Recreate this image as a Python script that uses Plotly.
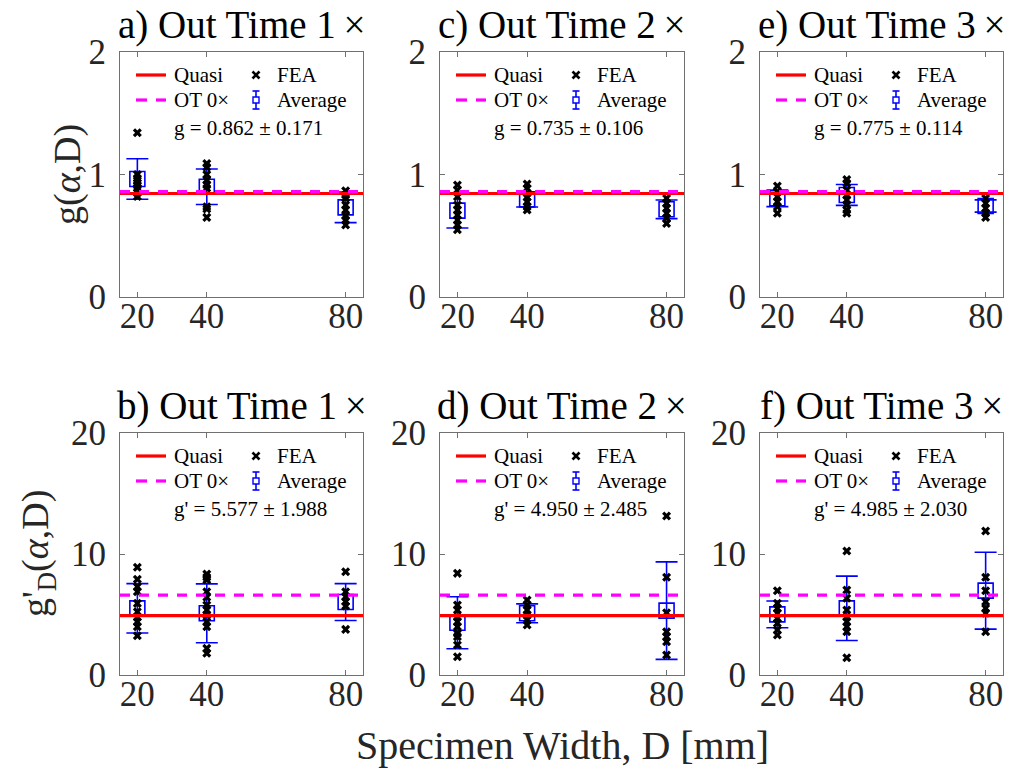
import plotly.graph_objects as go

# ---- data -------------------------------------------------------------
widths = [20, 40, 80]
x_ticks = [20, 40, 80]

quasi_g = 0.845
ot0_g = 0.86
quasi_gp = 4.9
ot0_gp = 6.6

# FEA results per specimen width (D = 20, 40, 80 mm)
fea_g_ot1 = [[1.34, 1.00, 0.97, 0.95, 0.93, 0.91, 0.89, 0.85, 0.82],
             [1.09, 1.06, 1.00, 0.955, 0.914, 0.887, 0.737, 0.718, 0.65],
             [0.868, 0.833, 0.806, 0.751, 0.71, 0.661, 0.629, 0.588]]
fea_g_ot2 = [[0.914, 0.873, 0.819, 0.751, 0.71, 0.67, 0.629, 0.588, 0.55],
             [0.922, 0.887, 0.847, 0.814, 0.778, 0.737, 0.71],
             [0.806, 0.765, 0.724, 0.683, 0.642, 0.60]]
fea_g_ot3 = [[0.906, 0.86, 0.819, 0.778, 0.737, 0.683],
             [0.96, 0.928, 0.873, 0.833, 0.792, 0.751, 0.71, 0.683],
             [0.806, 0.765, 0.724, 0.683, 0.65]]
fea_gp_ot1 = [[8.9, 7.91, 7.3, 6.88, 5.92, 5.23, 4.77, 4.41, 3.99, 3.25],
              [8.35, 8.07, 7.85, 6.88, 6.42, 5.79, 5.37, 4.96, 4.41, 3.99, 2.2, 1.79],
              [8.54, 6.88, 6.47, 6.06, 5.7, 3.77]]
fea_gp_ot2 = [[8.4, 5.79, 5.37, 4.82, 4.41, 3.99, 3.44, 3.17, 2.48, 1.51],
              [6.2, 5.79, 5.37, 4.96, 4.55, 4.13],
              [13.14, 8.07, 5.15, 3.58, 3.17, 2.75, 1.65]]
fea_gp_ot3 = [[6.97, 5.92, 5.51, 5.1, 4.69, 4.27, 3.72, 3.31],
              [10.25, 7.02, 6.34, 5.37, 4.82, 4.41, 3.99, 3.58, 1.43],
              [11.9, 8.07, 6.97, 6.06, 5.51, 5.1, 3.58]]

# averages and standard deviations per width
avg_g_ot1 = [0.963, 0.90, 0.732]
std_g_ot1 = [0.165, 0.145, 0.125]
avg_g_ot2 = [0.705, 0.797, 0.716]
std_g_ot2 = [0.142, 0.062, 0.076]
avg_g_ot3 = [0.806, 0.833, 0.743]
std_g_ot3 = [0.068, 0.085, 0.05]
avg_gp_ot1 = [5.51, 5.1, 6.03]
std_gp_ot1 = [2.04, 2.43, 1.52]
avg_gp_ot2 = [4.32, 5.1, 5.32]
std_gp_ot2 = [2.15, 0.78, 4.03]
avg_gp_ot3 = [5.01, 5.51, 6.97]
std_gp_ot3 = [1.1, 2.66, 3.18]

titles = ["a) Out Time 1\u2009×", "c) Out Time 2\u2009×", "e) Out Time 3\u2009×",
          "b) Out Time 1\u2009×", "d) Out Time 2\u2009×", "f) Out Time 3\u2009×"]
stats = ["g = 0.862 ± 0.171", "g = 0.735 ± 0.106", "g = 0.775 ± 0.114",
         "g' = 5.577 ± 1.988", "g' = 4.950 ± 2.485", "g' = 4.985 ± 2.030"]

# ---- layout helpers ---------------------------------------------------
W, H = 1013, 777
FONT = "Liberation Serif"
TXT = "#262626"
AX = "#707070"


def px(x):
    return x / W


def py(y):
    return 1 - y / H


cols_px = [(120, 363), (440, 684), (760, 1003)]
rows_px = [(52, 297), (433, 675)]

panels = [
    (fea_g_ot1, avg_g_ot1, std_g_ot1, quasi_g, ot0_g),
    (fea_g_ot2, avg_g_ot2, std_g_ot2, quasi_g, ot0_g),
    (fea_g_ot3, avg_g_ot3, std_g_ot3, quasi_g, ot0_g),
    (fea_gp_ot1, avg_gp_ot1, std_gp_ot1, quasi_gp, ot0_gp),
    (fea_gp_ot2, avg_gp_ot2, std_gp_ot2, quasi_gp, ot0_gp),
    (fea_gp_ot3, avg_gp_ot3, std_gp_ot3, quasi_gp, ot0_gp),
]
y_ranges = [[0, 2], [0, 20]]
y_ticks = [[0, 1, 2], [0, 10, 20]]
x_range = [15, 85]

fig = go.Figure()
layout = {}
shapes = []
annotations = []

for i, (fea, avg, std, q, ot0) in enumerate(panels):
    r, c = divmod(i, 3)
    n = i + 1
    xa = "x" if n == 1 else f"x{n}"
    ya = "y" if n == 1 else f"y{n}"
    L, R = cols_px[c]
    T, B = rows_px[r]

    layout["xaxis" if n == 1 else f"xaxis{n}"] = dict(
        domain=[px(L), px(R)], anchor=ya, range=x_range, automargin=False,
        tickmode="array", tickvals=x_ticks, ticktext=[str(v) for v in x_ticks],
        ticks="inside", ticklen=5, tickcolor=AX, showline=True, linecolor=AX,
        linewidth=1, mirror="ticks", showgrid=False, zeroline=False,
        ticklabelstandoff=-12,
        tickfont=dict(family=FONT, size=35, color=TXT))
    layout["yaxis" if n == 1 else f"yaxis{n}"] = dict(
        domain=[py(B), py(T)], anchor=xa, range=y_ranges[r], automargin=False,
        tickmode="array", tickvals=y_ticks[r],
        ticks="inside", ticklen=5, tickcolor=AX, showline=True, linecolor=AX,
        linewidth=1, mirror="ticks", showgrid=False, zeroline=False,
        ticklabelstandoff=6,
        tickfont=dict(family=FONT, size=35, color=TXT))

    # average with error bars
    fig.add_trace(go.Scatter(
        x=widths, y=avg, mode="markers", xaxis=xa, yaxis=ya,
        marker=dict(symbol="square-open", size=15, color="#0000ff",
                    line=dict(width=1.6, color="#0000ff")),
        error_y=dict(type="data", array=std, visible=True, color="#0000ff",
                     thickness=1.6, width=11),
        showlegend=False))

    # FEA samples
    fx, fy = [], []
    for w, vals in zip(widths, fea):
        fx += [w] * len(vals)
        fy += vals
    fig.add_trace(go.Scatter(
        x=fx, y=fy, mode="markers", xaxis=xa, yaxis=ya,
        marker=dict(symbol="x", size=8, color="black",
                    line=dict(width=0)),
        showlegend=False))

    # quasi-static and OT 0x reference levels
    fig.add_trace(go.Scatter(
        x=x_range, y=[q, q], mode="lines", xaxis=xa, yaxis=ya,
        line=dict(color="#ff0000", width=3.2), showlegend=False))
    fig.add_trace(go.Scatter(
        x=x_range, y=[ot0, ot0], mode="lines", xaxis=xa, yaxis=ya,
        line=dict(color="#ff00ff", width=3.2, dash="10px,9px"),
        showlegend=False))

    # panel title
    annotations.append(dict(
        x=px((L + R) / 2), y=py(T - 3), xref="paper", yref="paper",
        text=titles[i], showarrow=False, xanchor="center", yanchor="bottom",
        font=dict(family=FONT, size=39, color="black")))

    # in-axes legend
    ly1, ly2 = T + 23, T + 48
    shapes.append(dict(type="line", xref="paper", yref="paper",
                       x0=px(L + 16), x1=px(L + 46), y0=py(ly1), y1=py(ly1),
                       line=dict(color="#ff0000", width=3.2)))
    shapes.append(dict(type="line", xref="paper", yref="paper",
                       x0=px(L + 16), x1=px(L + 27), y0=py(ly2), y1=py(ly2),
                       line=dict(color="#ff00ff", width=3.2)))
    shapes.append(dict(type="line", xref="paper", yref="paper",
                       x0=px(L + 36), x1=px(L + 46), y0=py(ly2), y1=py(ly2),
                       line=dict(color="#ff00ff", width=3.2)))
    mx = L + 136
    for d in (1, -1):
        shapes.append(dict(type="line", xref="paper", yref="paper",
                           x0=px(mx - 3.5), x1=px(mx + 3.5),
                           y0=py(ly1 - 3.5 * d), y1=py(ly1 + 3.5 * d),
                           line=dict(color="black", width=2.6)))
    shapes.append(dict(type="line", xref="paper", yref="paper",
                       x0=px(mx), x1=px(mx), y0=py(ly2 - 9), y1=py(ly2 + 9),
                       line=dict(color="#0000ff", width=1.6)))
    for yy in (ly2 - 9, ly2 + 9):
        shapes.append(dict(type="line", xref="paper", yref="paper",
                           x0=px(mx - 3.5), x1=px(mx + 3.5), y0=py(yy), y1=py(yy),
                           line=dict(color="#0000ff", width=1.6)))
    shapes.append(dict(type="rect", xref="paper", yref="paper",
                       x0=px(mx - 3), x1=px(mx + 3), y0=py(ly2 - 3), y1=py(ly2 + 3),
                       line=dict(color="#0000ff", width=1.4),
                       fillcolor="white"))
    for txt, xx, yy in (("Quasi", L + 52, ly1), ("FEA", L + 155, ly1),
                        ("OT 0×", L + 52, ly2), ("Average", L + 155, ly2),
                        (stats[i], L + 52, T + 76)):
        annotations.append(dict(
            x=px(xx), y=py(yy), xref="paper", yref="paper", text=txt,
            showarrow=False, xanchor="left", yanchor="middle",
            font=dict(family=FONT, size=21, color="black")))

# axis labels
annotations.append(dict(
    x=px(67), y=py(175), xref="paper", yref="paper", text="g(<i>α</i>,D)",
    textangle=-90, showarrow=False, xanchor="center", yanchor="middle",
    font=dict(family=FONT, size=38, color=TXT)))
annotations.append(dict(
    x=px(38), y=py(554), xref="paper", yref="paper",
    text="g'<sub>D</sub>(<i>α</i>,D)",
    textangle=-90, showarrow=False, xanchor="center", yanchor="middle",
    font=dict(family=FONT, size=38, color=TXT)))
annotations.append(dict(
    x=px(562), y=py(770), xref="paper", yref="paper",
    text="Specimen Width, D [mm]", showarrow=False,
    xanchor="center", yanchor="bottom",
    font=dict(family=FONT, size=40, color=TXT)))

fig.update_layout(
    width=W, height=H, margin=dict(l=0, r=0, t=0, b=0),
    paper_bgcolor="white", plot_bgcolor="white",
    shapes=shapes, annotations=annotations, **layout)

fig.write_html("out.html")
